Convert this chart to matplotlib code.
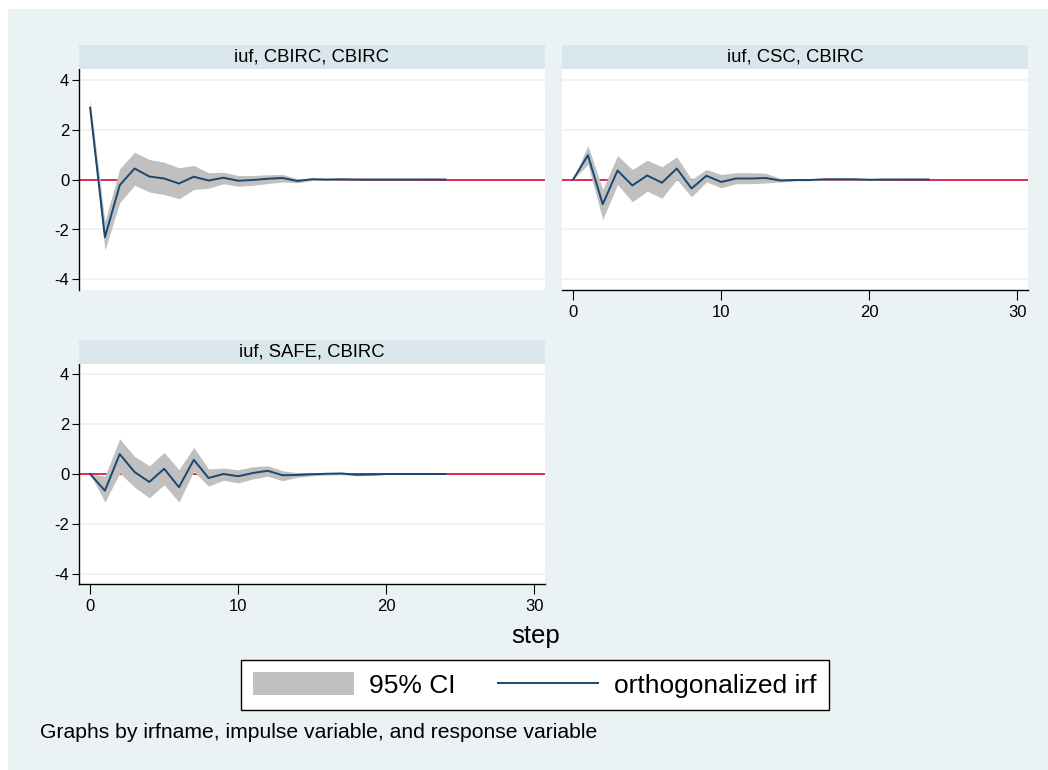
import numpy as np
import matplotlib
matplotlib.use("Agg")
import matplotlib.pyplot as plt
from matplotlib.patches import Patch, Rectangle
from matplotlib.lines import Line2D

plt.rcParams['font.family'] = ['Liberation Sans', 'DejaVu Sans']
plt.rcParams['axes.unicode_minus'] = False

steps = list(range(25))

# iuf, CBIRC, CBIRC
irf1 = [2.87, -2.31, -0.23, 0.44, 0.12, 0.04, -0.16, 0.11, -0.04, 0.07, -0.05, -0.02, 0.03,
        0.06, -0.06, 0.01, 0.0, 0.01, 0.0, 0.0, 0.0, 0.0, 0.0, 0.0, 0.0]
lo1 = [2.55, -2.83, -0.93, -0.23, -0.50, -0.60, -0.77, -0.40, -0.35, -0.17, -0.27, -0.23, -0.16,
       -0.10, -0.13, -0.04, -0.03, -0.02, -0.02, -0.01, -0.01, -0.01, -0.01, 0.0, 0.0]
hi1 = [3.20, -1.67, 0.43, 1.09, 0.80, 0.69, 0.47, 0.56, 0.27, 0.29, 0.16, 0.16, 0.19,
       0.20, 0.03, 0.06, 0.03, 0.04, 0.02, 0.01, 0.01, 0.01, 0.01, 0.0, 0.0]

# iuf, CSC, CBIRC
irf2 = [0.0, 0.97, -0.99, 0.36, -0.24, 0.16, -0.13, 0.44, -0.36, 0.15, -0.10, 0.04, 0.04,
        0.06, -0.04, -0.02, -0.02, 0.01, 0.01, 0.01, -0.01, 0.0, 0.0, 0.0, 0.0]
lo2 = [0.0, 0.60, -1.60, -0.20, -0.89, -0.47, -0.75, 0.0, -0.69, -0.10, -0.33, -0.17, -0.17,
       -0.14, -0.10, -0.06, -0.05, -0.02, -0.02, -0.02, -0.03, -0.01, -0.01, 0.0, 0.0]
hi2 = [0.0, 1.36, -0.40, 0.96, 0.40, 0.77, 0.51, 0.91, 0.0, 0.40, 0.20, 0.27, 0.27,
       0.25, 0.05, 0.03, 0.02, 0.04, 0.03, 0.03, 0.01, 0.01, 0.01, 0.0, 0.0]

# iuf, SAFE, CBIRC
irf3 = [0.0, -0.67, 0.80, 0.08, -0.32, 0.21, -0.53, 0.57, -0.16, 0.0, -0.09, 0.04, 0.13,
        -0.05, -0.04, -0.01, 0.01, 0.02, -0.03, -0.02, 0.0, 0.0, 0.0, 0.0, 0.0]
lo3 = [0.0, -1.13, 0.04, -0.53, -0.96, -0.43, -1.13, 0.11, -0.49, -0.25, -0.36, -0.20, -0.09,
       -0.27, -0.13, -0.07, -0.04, -0.03, -0.07, -0.05, -0.03, -0.02, -0.01, -0.01, 0.0]
hi3 = [0.0, -0.09, 1.41, 0.71, 0.33, 0.87, 0.17, 1.07, 0.20, 0.24, 0.17, 0.29, 0.33,
       0.13, 0.05, 0.05, 0.06, 0.07, 0.01, 0.01, 0.03, 0.02, 0.01, 0.01, 0.0]

titles = ["iuf, CBIRC, CBIRC", "iuf, CSC, CBIRC", "iuf, SAFE, CBIRC"]
yticks = [-4, -2, 0, 2, 4]
xticks = [0, 10, 20, 30]

BG = '#EAF2F3'
STRIP = '#D9E6EB'
BAND = '#C0C0C0'
NAVY = '#1A476F'
RED = '#D81E44'

W, H = 1048, 770
fig = plt.figure(figsize=(W / 100, H / 100), dpi=100)
fig.patch.set_facecolor('white')
fig.add_artist(Rectangle((8 / W, 0), 1 - 8 / W, 1 - 9 / H, transform=fig.transFigure,
                         facecolor=BG, edgecolor='none', zorder=-10))


def px_axes(x0, y0, x1, y1):
    return fig.add_axes([x0 / W, 1 - y1 / H, (x1 - x0) / W, (y1 - y0) / H])


panels = [
    (79, 69, 545, 290, irf1, lo1, hi1, True, False),
    (562, 69, 1028, 290, irf2, lo2, hi2, False, True),
    (79, 364, 545, 584, irf3, lo3, hi3, True, True),
]

for i, (x0, y0, x1, y1, irf, lo, hi, showy, showx) in enumerate(panels):
    ax = px_axes(x0, y0, x1, y1)
    ax.set_facecolor('white')
    ax.axhline(0, color=RED, linewidth=1.3, zorder=1.5)
    ax.fill_between(steps, lo, hi, color=BAND, linewidth=0, zorder=2)
    ax.plot(steps, irf, color=NAVY, linewidth=1.4, zorder=4)
    ax.set_xlim(-0.75, 30.72)
    ax.set_ylim(-4.42, 4.42)
    ax.set_yticks(yticks)
    ax.set_xticks(xticks)
    ax.grid(axis='y', color=BG, linewidth=1.2, zorder=1)
    ax.set_axisbelow(True)
    for s in ax.spines.values():
        s.set_visible(False)
    if showy:
        ax.spines['left'].set_visible(True)
        ax.spines['left'].set_color('black')
        ax.spines['left'].set_linewidth(1.0)
        ax.tick_params(axis='y', length=5, width=0.8, labelsize=12, pad=2)
    else:
        ax.tick_params(axis='y', left=False, labelleft=False)
    if showx:
        ax.spines['bottom'].set_visible(True)
        ax.spines['bottom'].set_color('black')
        ax.spines['bottom'].set_linewidth(1.0)
        ax.tick_params(axis='x', length=7, width=0.8, labelsize=12, pad=4)
    else:
        ax.tick_params(axis='x', bottom=False, labelbottom=False)

    # strip title
    sx = px_axes(x0, y0 - 24, x1, y0)
    sx.set_facecolor(STRIP)
    sx.set_xticks([])
    sx.set_yticks([])
    for s in sx.spines.values():
        s.set_visible(False)
    sx.text(0.5, 0.5, titles[i], ha='center', va='center', fontsize=13.3,
            transform=sx.transAxes)

fig.text(536 / W, 1 - 636 / H, "step", ha='center', va='center', fontsize=18.5)

handles = [Patch(facecolor=BAND, edgecolor='none'),
           Line2D([0], [0], color=NAVY, linewidth=1.4)]
leg = fig.legend(handles, ["95% CI", "orthogonalized irf"], loc='center',
                 bbox_to_anchor=(535 / W, 1 - 685 / H), ncol=2, fontsize=19,
                 frameon=True, fancybox=False, edgecolor='black', facecolor='white',
                 framealpha=1, handlelength=3.8, handleheight=0.98, handletextpad=0.6,
                 columnspacing=1.6, borderpad=0.45, borderaxespad=0)
leg.get_frame().set_linewidth(1.0)

fig.text(40 / W, 1 - 733 / H, "Graphs by irfname, impulse variable, and response variable",
         ha='left', va='center', fontsize=15.2)

fig.savefig("out.png", dpi=100, facecolor=fig.get_facecolor())
